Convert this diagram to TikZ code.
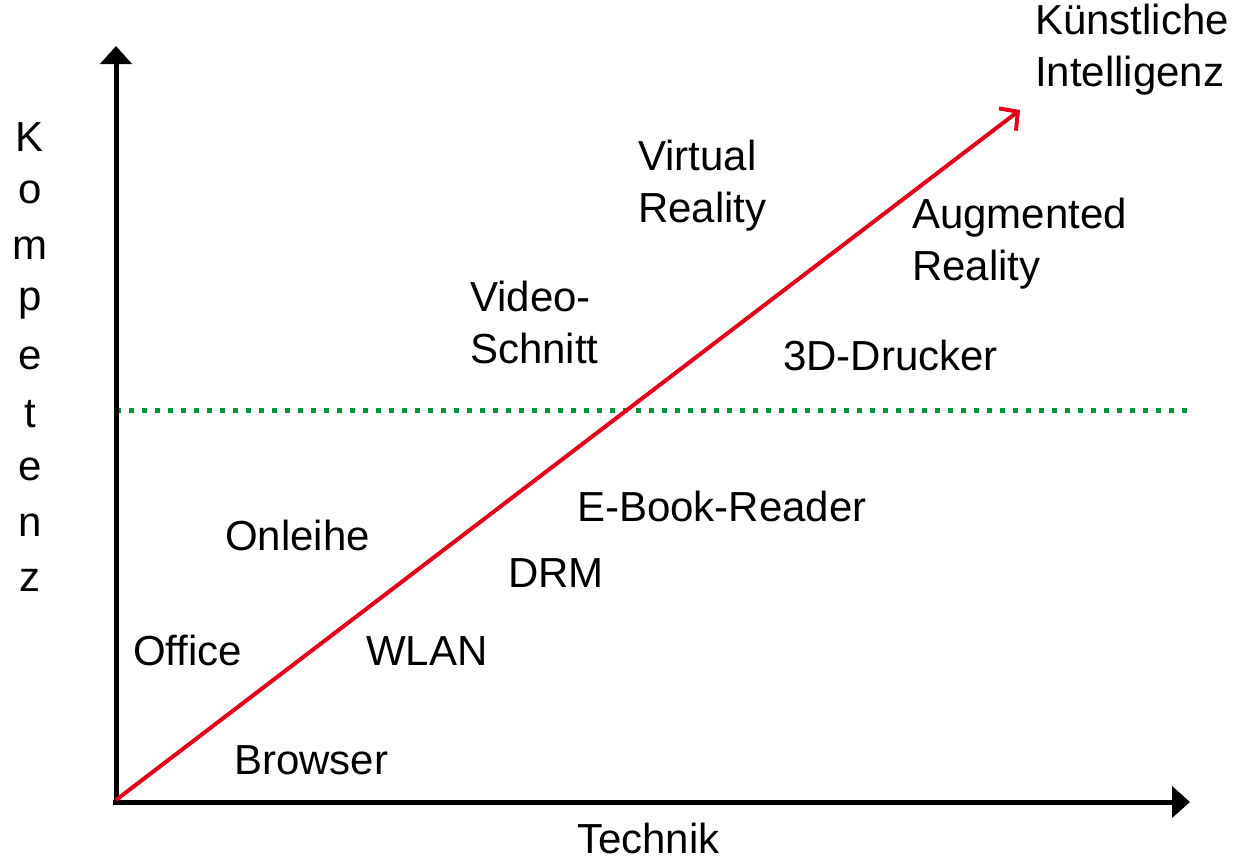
\documentclass[tikz,border=0pt]{standalone}
\usepackage{fontspec}
\setmainfont{Liberation Sans}
\usetikzlibrary{arrows.meta}
\definecolor{axred}{RGB}{228,0,27}
\definecolor{dotgreen}{RGB}{0,150,62}
\begin{document}
\begin{tikzpicture}[x=1pt,y=-1pt,
  lbl/.style={anchor=west,inner sep=0pt,align=left,font=\fontsize{42}{52}\selectfont},
  letter/.style={anchor=center,inner sep=0pt,font=\fontsize{42}{52}\selectfont},
  axis/.style={line width=5pt,-{Triangle[length=18pt,width=31pt]}},
  trend/.style={line width=4pt,axred,-{Straight Barb[length=13pt,width=28pt,line width=4pt]}},
  level/.style={line width=5pt,dotgreen,dash pattern=on 5pt off 8pt}]
\useasboundingbox (0,0) rectangle (1235,863);
\coordinate (O) at (116,802);
\coordinate (ytop) at (116,46);
\coordinate (xstart) at (113,802);
\coordinate (xend) at (1190,802);
\coordinate (rs) at (116,800);
\coordinate (re) at (1020,110);
\coordinate (gs) at (116,410);
\coordinate (ge) at (1190,410);
\draw[level] (gs) -- (ge);
\draw[axis] (O) -- (ytop);
\draw[axis] (xstart) -- (xend);
\draw[trend] (rs) -- (re);
\node[lbl] (ki) at (1035,50) {Künstliche\\Intelligenz};
\node[lbl] (vr) at (638,186) {Virtual\\Reality};
\node[lbl] (ar) at (912,244) {Augmented\\Reality};
\node[lbl] (vs) at (470,322) {Video-\\Schnitt};
\node[lbl] (dd) at (783,355) {3D-Drucker};
\node[lbl] (eb) at (577,506) {E-Book-Reader};
\node[lbl] (on) at (225,535) {Onleihe};
\node[lbl] (drm) at (508,573) {DRM};
\node[lbl] (of) at (133,650) {Office};
\node[lbl] (wl) at (366,651) {WLAN};
\node[lbl] (br) at (234,760) {Browser};
\node[lbl] (te) at (577,838) {Technik};
\foreach \ch [count=\i from 0] in {K,o,m,p,e,t,e,n,z}
  \node[letter] (k\i) at (30,{137+55.4*\i}) {\ch};
\end{tikzpicture}
\end{document}
